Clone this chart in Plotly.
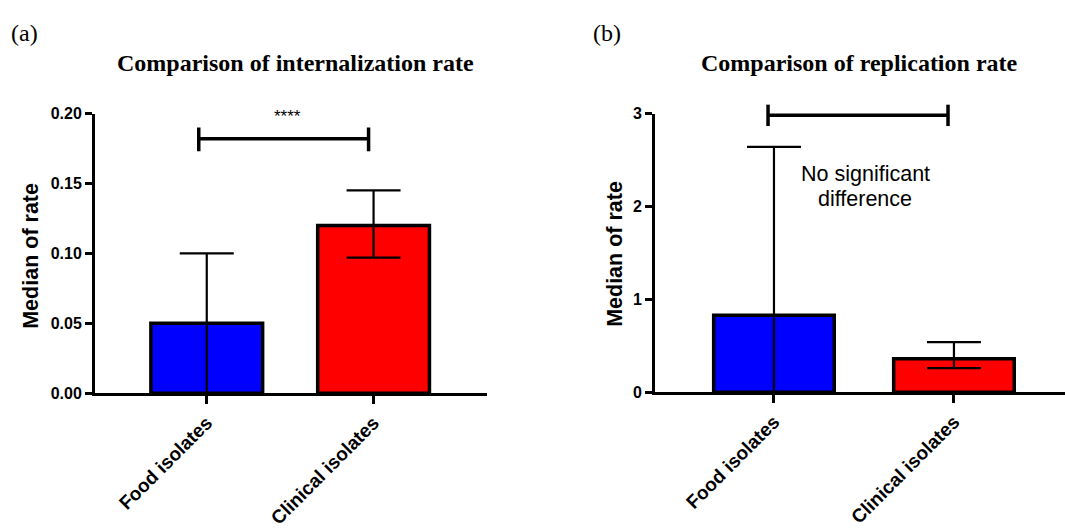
import plotly.graph_objects as go

# ---------------- data ----------------
categories = ["Food isolates", "Clinical isolates"]
bar_colors = ["#0000FF", "#FF0000"]

intern_median = [0.05, 0.12]
intern_upper = [0.100, 0.145]
intern_lower = [0.0, 0.097]

repl_median = [0.83, 0.36]
repl_upper = [2.64, 0.54]
repl_lower = [0.0, 0.26]

intern_ticks = [0.0, 0.05, 0.10, 0.15, 0.20]
repl_ticks = [0, 1, 2, 3]

# ---------------- layout geometry ----------------
W, H = 1065, 530
dom_xa = [95 / W, 487 / W]
dom_ya = [1 - 398 / H, 1 - 109 / H]
dom_xb = [655 / W, 1.0]
dom_yb = [1 - 397 / H, 1 - 109 / H]
rng_xa = [-0.67, 1.68]
rng_xb = [-0.661, 1.617]
rng_ya = [0, 0.2]
rng_yb = [0, 3]

SANS = "Liberation Sans, Arial, sans-serif"
SERIF = "Liberation Serif, Times New Roman, serif"


def px(v, rng, dom):
    return dom[0] + (v - rng[0]) / (rng[1] - rng[0]) * (dom[1] - dom[0])


fig = go.Figure()


def add_bars(med, up, lo, xa, ya):
    fig.add_trace(go.Bar(
        x=categories, y=med, xaxis=xa, yaxis=ya,
        width=0.67,
        marker=dict(color=bar_colors, line=dict(color="black", width=3.5)),
        error_y=dict(type="data", symmetric=False,
                     array=[u - m for u, m in zip(up, med)],
                     arrayminus=[m - l for m, l in zip(med, lo)],
                     color="black", thickness=2.2, width=27),
        showlegend=False, hoverinfo="skip",
    ))


add_bars(intern_median, intern_upper, intern_lower, "x", "y")
add_bars(repl_median, repl_upper, repl_lower, "x2", "y2")

axis_common = dict(showline=True, linecolor="black", linewidth=3, showgrid=False,
                   zeroline=False, ticks="outside", tickcolor="black", tickwidth=2.5)

fig.update_layout(
    width=W, height=H,
    margin=dict(l=0, r=0, t=0, b=0),
    paper_bgcolor="white", plot_bgcolor="white",
    showlegend=False,
    xaxis=dict(domain=dom_xa, range=rng_xa, type="category", tickangle=-45, ticklen=8,
               tickfont=dict(family=SANS, size=19, color="black", weight="bold"),
               anchor="y", **axis_common),
    yaxis=dict(domain=dom_ya, range=rng_ya, tickvals=intern_ticks, tickformat=".2f", ticklen=7,
               tickfont=dict(family=SANS, size=16, color="black", weight="bold"),
               anchor="x", **axis_common),
    xaxis2=dict(domain=dom_xb, range=rng_xb, type="category", tickangle=-45, ticklen=8,
                tickfont=dict(family=SANS, size=19, color="black", weight="bold"),
                anchor="y2", **axis_common),
    yaxis2=dict(domain=dom_yb, range=rng_yb, tickvals=repl_ticks, ticklen=7,
                tickfont=dict(family=SANS, size=16, color="black", weight="bold"),
                anchor="x2", **axis_common),
)

# ---------------- significance brackets ----------------
def bracket(x0, x1, yv, y0, y1, rx, ry, dx, dy):
    X0, X1 = px(x0, rx, dx), px(x1, rx, dx)
    Y, Ya, Yb = px(yv, ry, dy), px(y0, ry, dy), px(y1, ry, dy)
    line = dict(color="black", width=3.5)
    fig.add_shape(type="line", xref="paper", yref="paper", x0=X0, x1=X1, y0=Y, y1=Y, line=line)
    fig.add_shape(type="line", xref="paper", yref="paper", x0=X0, x1=X0, y0=Ya, y1=Yb, line=line)
    fig.add_shape(type="line", xref="paper", yref="paper", x0=X1, x1=X1, y0=Ya, y1=Yb, line=line)


bracket(-0.048, 0.97, 0.182, 0.173, 0.190, rng_xa, rng_ya, dom_xa, dom_ya)
bracket(-0.033, 0.967, 2.98, 2.865, 3.095, rng_xb, rng_yb, dom_xb, dom_yb)

# ---------------- texts ----------------
ann = []
ann.append(dict(text="(a)", x=9 / W, y=1 - 26 / H, xanchor="left", yanchor="middle",
                font=dict(family=SERIF, size=24, color="black")))
ann.append(dict(text="(b)", x=591 / W, y=1 - 26 / H, xanchor="left", yanchor="middle",
                font=dict(family=SERIF, size=24, color="black")))
ann.append(dict(text="<b>Comparison of internalization rate</b>", x=295 / W, y=1 - 57 / H,
                xanchor="center", yanchor="middle",
                font=dict(family=SERIF, size=24, color="black")))
ann.append(dict(text="<b>Comparison of replication rate</b>", x=859 / W, y=1 - 57 / H,
                xanchor="center", yanchor="middle",
                font=dict(family=SERIF, size=24, color="black")))
ann.append(dict(text="<b>Median of rate</b>", x=31 / W, y=1 - 256 / H, textangle=-90,
                xanchor="center", yanchor="middle",
                font=dict(family=SANS, size=21.5, color="black")))
ann.append(dict(text="<b>Median of rate</b>", x=615 / W, y=1 - 254 / H, textangle=-90,
                xanchor="center", yanchor="middle",
                font=dict(family=SANS, size=21.5, color="black")))
ann.append(dict(text="****", x=287 / W, y=1 - 112 / H, xanchor="center", yanchor="middle",
                font=dict(family=SANS, size=17, color="black")))
ann.append(dict(text="No significant", x=865 / W, y=1 - 172 / H,
                xanchor="center", yanchor="middle",
                font=dict(family=SANS, size=21.5, color="black")))
ann.append(dict(text="difference", x=865 / W, y=1 - 197 / H,
                xanchor="center", yanchor="middle",
                font=dict(family=SANS, size=21.5, color="black")))
for a in ann:
    a.update(xref="paper", yref="paper", showarrow=False)
fig.update_layout(annotations=ann)

fig.write_html("out.html",
               config={"displayModeBar": False},
               post_script="document.body.style.margin='0px';document.body.style.overflow='hidden';")
